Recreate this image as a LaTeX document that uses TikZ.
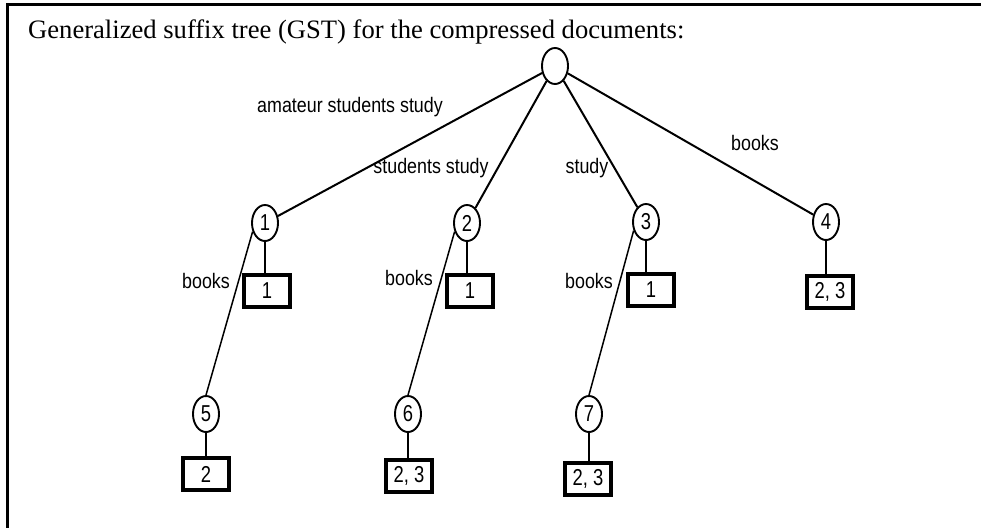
\documentclass[tikz,border=0pt]{standalone}
\usepackage{fontspec}
\setmainfont{Liberation Serif}
\setsansfont{Liberation Sans}
\newfontfamily\labfont[FakeStretch=0.85]{Liberation Sans}
\newfontfamily\digfont[FakeStretch=0.8]{Liberation Sans}
\usetikzlibrary{shapes.geometric}
\begin{document}
\begin{tikzpicture}[x=1pt,y=-1pt,
  tnode/.style={ellipse,draw,line width=1.9pt,minimum width=26pt,minimum height=36pt,inner sep=0pt,font=\digfont\fontsize{23}{23}\selectfont},
  leaf/.style={rectangle,draw,line width=3.4pt,minimum width=46pt,minimum height=32pt,inner sep=0pt,font=\digfont\fontsize{23}{23}\selectfont},
  edge/.style={line width=2pt},
  thinedge/.style={line width=1.5pt},
  stem/.style={line width=2.8pt},
  lab/.style={font=\labfont\fontsize{21}{21}\selectfont,inner sep=0pt}]
\useasboundingbox (0,0) rectangle (981,527);
\draw[line width=3pt] (7,530) -- (7,5) -- (985,5);
\node[anchor=base west,inner sep=0pt,font=\fontsize{26.6}{26.6}\selectfont] (title) at (28,39) {Generalized suffix tree (GST) for the compressed documents:};

\node[tnode] (r) at (555,66) {};
\node[tnode] (n1) at (265,223) {1};
\node[tnode] (n2) at (467,223) {2};
\node[tnode] (n3) at (646,222) {3};
\node[tnode] (n4) at (826,222) {4};
\node[tnode] (n5) at (206,414) {5};
\node[tnode] (n6) at (408,414) {6};
\node[tnode] (n7) at (589,414) {7};

\node[leaf] (b1) at (267,291) {1};
\node[leaf] (b2) at (470,291) {1};
\node[leaf] (b3) at (651,290) {1};
\node[leaf] (b4) at (830,292) {2, 3};
\node[leaf] (b5) at (206,474) {2};
\node[leaf] (b6) at (409,476) {2, 3};
\node[leaf] (b7) at (588,479) {2, 3};

\draw[edge] (r) -- (n1);
\draw[edge] (r) -- (n2);
\draw[edge] (r) -- (n3);
\draw[edge] (r) -- (n4);
\draw[thinedge] (n1.215) -- (n5.north);
\draw[thinedge] (n2.215) -- (n6.north);
\draw[thinedge] (n3.215) -- (n7.north);

\draw[stem] (n1.south) -- (n1.south |- b1.north);
\draw[stem] (n2.south) -- (n2.south |- b2.north);
\draw[stem] (n3.south) -- (n3.south |- b3.north);
\draw[stem] (n4.south) -- (n4.south |- b4.north);
\draw[thinedge] (n5.south) -- (n5.south |- b5.north);
\draw[stem] (n6.south) -- (n6.south |- b6.north);
\draw[stem] (n7.south) -- (n7.south |- b7.north);

\node[lab] (l1) at (350,107) {amateur students study};
\node[lab] (l2) at (431,168) {students study};
\node[lab] (l3) at (587,168) {study};
\node[lab] (l4) at (755,143) {books};
\node[lab] (l5) at (206,281) {books};
\node[lab] (l6) at (409,278) {books};
\node[lab] (l7) at (589,281) {books};
\end{tikzpicture}
\end{document}
